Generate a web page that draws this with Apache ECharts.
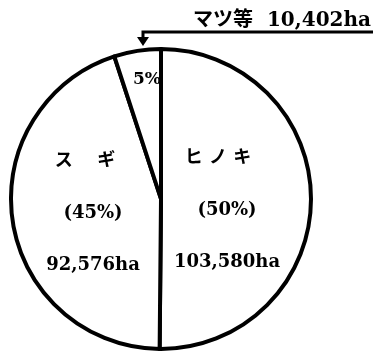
<!DOCTYPE html>
<html>
<head>
<meta charset="utf-8">
<script src="https://cdn.jsdelivr.net/npm/echarts@6/dist/echarts.min.js"></script>
<style>
  html, body { margin: 0; padding: 0; background: #fff; }
  #pieChart { width: 374px; height: 351px; }
</style>
</head>
<body>
<div id="pieChart"></div>
<script>
// 樹種別面積
const names = ['ヒノキ', 'スギ', 'マツ等'];
const nameLabels = ['ヒ ノ キ', 'ス　 ギ', 'マツ等'];
const areas = [103580, 92576, 10402];
const percents = [50, 45, 5];

const font = "'DejaVu Serif', 'Noto Sans CJK JP', serif";

function fmtArea(v) {
  return v.toLocaleString('en-US') + 'ha';
}

let myChart = echarts.init(document.getElementById('pieChart'), null, {renderer: 'canvas'});

let mainData = names.map((n, i) => ({
  name: n,
  value: areas[i],
  label: {
    formatter: i === 2
      ? '{s|' + percents[i] + '%}'
      : '{n' + i + '|' + nameLabels[i] + '}\n{p|(' + percents[i] + '%)}\n{a|' + fmtArea(areas[i]) + '}'
  }
}));

let calloutData = names.map((n, i) => ({
  name: n,
  value: areas[i],
  label: { show: i === 2 },
  labelLine: { show: i === 2 }
}));

// label block positions (px)
const blockPos = [[227, 210], [93, 213], [147, 80]];

let txt = { fontSize: 18, lineHeight: 52, fontWeight: 'bold', fontFamily: font, color: '#000' };

let option = {
  backgroundColor: '#fff',
  animation: false,
  series: [
    {
      type: 'pie',
      center: [161, 199],
      radius: 150,
      startAngle: 90,
      clockwise: true,
      avoidLabelOverlap: false,
      silent: true,
      itemStyle: {
        color: '#fff',
        borderColor: '#000',
        borderWidth: 4
      },
      label: {
        show: true,
        position: 'inside',
        color: '#000',
        fontFamily: font,
        fontWeight: 'bold',
        rich: {
          n0: Object.assign({}, txt, { padding: [0, 18, 0, 0] }),
          n1: Object.assign({}, txt, { padding: [0, 16, 0, 0] }),
          p: Object.assign({}, txt),
          a: Object.assign({}, txt),
          s: { fontSize: 17, fontWeight: 'bold', fontFamily: font, color: '#000' }
        }
      },
      labelLine: { show: false },
      labelLayout: function (params) {
        let p = blockPos[params.dataIndex];
        return { x: p[0], y: p[1], align: 'center', verticalAlign: 'middle' };
      },
      data: mainData
    },
    {
      type: 'pie',
      center: [161, 199],
      radius: 150,
      startAngle: 90,
      clockwise: true,
      avoidLabelOverlap: false,
      silent: true,
      itemStyle: { color: 'rgba(0,0,0,0)', borderWidth: 0 },
      label: {
        position: 'outside',
        color: '#000',
        fontFamily: font,
        fontWeight: 'bold',
        fontSize: 20,
        formatter: function (p) {
          return p.name + '  ' + fmtArea(p.value);
        }
      },
      labelLine: {
        lineStyle: { color: '#000', width: 3 }
      },
      labelLayout: function (params) {
        if (params.dataIndex !== 2) return {};
        return {
          x: 371, y: 21, align: 'right', verticalAlign: 'middle',
          labelLinePoints: [[143, 41], [143, 32], [373, 32]]
        };
      },
      data: calloutData
    }
  ],
  graphic: [
    {
      type: 'polygon',
      shape: { points: [[137, 37], [149, 37], [143, 46]] },
      style: { fill: '#000' },
      silent: true
    }
  ]
};

myChart.setOption(option);
</script>
</body>
</html>
